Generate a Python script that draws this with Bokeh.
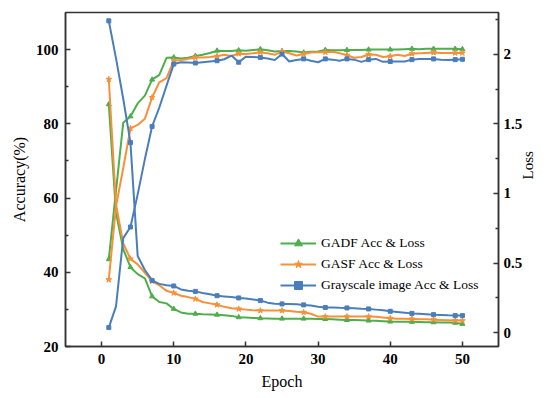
import math
from bokeh.plotting import figure
from bokeh.models import Range1d, LinearAxis, Legend, LegendItem, FixedTicker
from bokeh.embed import file_html
from bokeh.resources import INLINE

epochs = list(range(1, 51))

gadf_acc = [43.5, 62.0, 80.3, 82.0, 85.5, 87.6, 91.9, 93.2, 97.8, 97.9,
            97.6, 97.8, 98.3, 98.6, 99.1, 99.7, 99.6, 99.6, 99.8, 99.7,
            99.9, 100.1, 99.8, 99.5, 99.6, 99.6, 99.5, 99.2, 99.4, 99.5,
            99.9, 99.8, 99.8, 99.9, 99.9, 99.9, 100.0, 100.0, 100.0, 100.0,
            100.0, 100.1, 100.2, 100.1, 100.2, 100.2, 100.2, 100.2, 100.2, 100.1]
gadf_loss = [1.64, 0.86, 0.60, 0.47, 0.42, 0.39, 0.26, 0.22, 0.21, 0.17,
             0.145, 0.135, 0.135, 0.132, 0.13, 0.128, 0.125, 0.12, 0.11, 0.108,
             0.105, 0.103, 0.102, 0.10, 0.10, 0.10, 0.10, 0.10, 0.10, 0.098,
             0.097, 0.095, 0.093, 0.09, 0.09, 0.088, 0.086, 0.085, 0.082, 0.079,
             0.078, 0.077, 0.077, 0.076, 0.075, 0.074, 0.073, 0.072, 0.070, 0.062]

gasf_acc = [38.0, 57.8, 68.1, 78.8, 79.7, 81.4, 87.1, 91.2, 92.3, 97.0,
            97.2, 97.5, 97.9, 97.9, 98.0, 98.2, 98.6, 98.3, 98.9, 98.8,
            99.0, 99.3, 99.0, 98.6, 99.5, 99.0, 98.4, 98.8, 99.2, 99.3,
            99.3, 99.4, 99.0, 98.5, 97.8, 98.0, 98.7, 98.6, 98.0, 98.2,
            98.6, 98.3, 98.9, 99.0, 99.1, 99.2, 99.1, 99.1, 99.1, 99.1]
gasf_loss = [1.82, 0.92, 0.64, 0.53, 0.49, 0.43, 0.37, 0.34, 0.30, 0.285,
             0.265, 0.255, 0.242, 0.22, 0.21, 0.20, 0.185, 0.175, 0.17, 0.165,
             0.16, 0.158, 0.158, 0.158, 0.158, 0.155, 0.15, 0.146, 0.135, 0.115,
             0.115, 0.115, 0.115, 0.115, 0.115, 0.115, 0.115, 0.113, 0.108, 0.103,
             0.10, 0.099, 0.098, 0.096, 0.095, 0.093, 0.091, 0.089, 0.087, 0.086]

gray_acc = [25.1, 30.8, 49.2, 52.2, 61.0, 70.5, 79.3, 84.4, 90.3, 96.1,
            96.6, 96.5, 96.4, 96.6, 96.8, 97.0, 97.4, 98.4, 96.6, 98.1,
            98.0, 97.9, 97.6, 97.2, 98.8, 96.8, 97.2, 97.5, 97.0, 96.6,
            97.5, 97.3, 97.0, 97.5, 97.3, 96.7, 97.3, 97.5, 96.7, 96.8,
            96.8, 96.8, 97.3, 97.5, 97.5, 97.5, 97.3, 97.2, 97.3, 97.4]
gray_loss = [2.24, 1.97, 1.68, 1.365, 0.55, 0.45, 0.375, 0.35, 0.34, 0.335,
             0.31, 0.30, 0.296, 0.285, 0.275, 0.265, 0.26, 0.255, 0.249, 0.245,
             0.238, 0.23, 0.215, 0.208, 0.206, 0.205, 0.203, 0.199, 0.194, 0.185,
             0.18, 0.18, 0.178, 0.177, 0.175, 0.172, 0.17, 0.165, 0.16, 0.153,
             0.148, 0.143, 0.138, 0.135, 0.132, 0.129, 0.127, 0.124, 0.122, 0.122]

series_names = ["GADF Acc & Loss", "GASF Acc & Loss", "Grayscale image Acc & Loss"]
x_ticks = [0, 10, 20, 30, 40, 50]
acc_ticks = [20, 40, 60, 80, 100]
loss_ticks = [0.0, 0.5, 1.0, 1.5, 2.0]

colors = ["#4fae4c", "#f6913a", "#4a7ebb"]
markers = ["triangle", "star", "square"]
msizes = [5, 6, 4]

FONT = "Liberation Serif"

p = figure(width=547, height=398, x_range=Range1d(-5, 55), y_range=Range1d(20, 110),
           output_backend="svg", toolbar_location=None,
           min_border_left=65, min_border_right=48, min_border_top=12, min_border_bottom=52)
p.extra_y_ranges = {"loss": Range1d(-0.1, 2.3)}
p.grid.visible = False
p.outline_line_color = "#333333"
p.outline_line_width = 1.5
p.background_fill_color = "white"
p.border_fill_color = "white"

raxis = LinearAxis(y_range_name="loss")
p.add_layout(raxis, "right")

def style(ax, ticks, minor, label):
    ax.ticker = FixedTicker(ticks=ticks, minor_ticks=minor)
    ax.axis_label = label
    ax.axis_label_text_font = FONT
    ax.axis_label_text_font_style = "normal"
    ax.axis_label_text_font_size = "16px"
    ax.axis_label_text_color = "black"
    ax.major_label_text_font = FONT
    ax.major_label_text_font_style = "bold"
    ax.major_label_text_font_size = "15px"
    ax.major_label_text_color = "black"
    ax.axis_line_color = "#333333"
    ax.axis_line_width = 1.5
    ax.major_tick_line_color = "#333333"
    ax.major_tick_line_width = 1.5
    ax.minor_tick_line_color = "#333333"
    ax.minor_tick_line_width = 1.5
    ax.major_tick_in = 5
    ax.major_tick_out = 0
    ax.minor_tick_in = 3
    ax.minor_tick_out = 0

style(p.xaxis[0], x_ticks, [], "Epoch")
style(p.yaxis[0], acc_ticks, [30, 50, 70, 90], "Accuracy(%)")
style(raxis, loss_ticks, [0.25, 0.75, 1.25, 1.75, 2.25], "Loss")
p.xaxis[0].major_label_standoff = 7
p.xaxis[0].axis_label_standoff = 6
p.yaxis[0].major_label_standoff = 7
p.yaxis[0].axis_label_standoff = 5
raxis.major_label_standoff = 5
raxis.axis_label_standoff = 3
raxis.axis_label_text_font_size = "15px"
if "axis_label_orientation" in raxis.properties():
    raxis.axis_label_orientation = math.pi / 2

mk_idx = list(range(0, 50, 3)) + [49]

all_data = [(gadf_acc, gadf_loss), (gasf_acc, gasf_loss), (gray_acc, gray_loss)]
items = []
for (acc, loss), name, c, m, s in zip(all_data, series_names, colors, markers, msizes):
    la = p.line(epochs, acc, line_color=c, line_width=2)
    ll = p.line(epochs, loss, line_color=c, line_width=2, y_range_name="loss")
    mx = [epochs[i] for i in mk_idx]
    sa = p.scatter(mx, [acc[i] for i in mk_idx], marker=m, size=s, fill_color=c, line_color=c)
    sl = p.scatter(mx, [loss[i] for i in mk_idx], marker=m, size=s, fill_color=c, line_color=c,
                   y_range_name="loss")
    items.append(LegendItem(label=name, renderers=[la, sa]))

legend = Legend(items=items, location=(215, 51), padding=0, margin=0,
                glyph_width=36, glyph_height=20, label_height=20, spacing=1,
                label_standoff=5, border_line_alpha=0, background_fill_alpha=0,
                label_text_font=FONT, label_text_font_size="13.5px", label_text_color="black")
p.add_layout(legend, "center")

open("out.html", "w").write(file_html(p, INLINE))
